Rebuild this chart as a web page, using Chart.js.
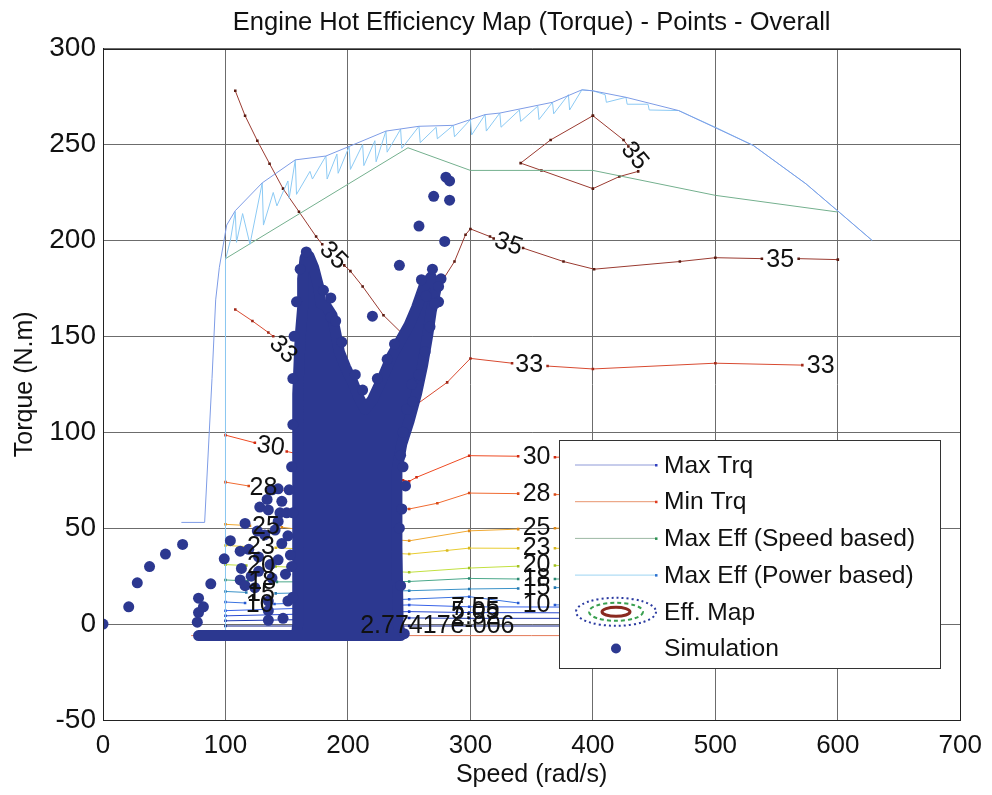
<!DOCTYPE html>
<html>
<head>
<meta charset="utf-8">
<script src="https://cdn.jsdelivr.net/npm/chart.js@4.4.1/dist/chart.umd.min.js"></script>
<style>
  html, body { margin: 0; padding: 0; background: #fff; }
</style>
</head>
<body>
<canvas id="effMap" width="992" height="795"></canvas>
<script>
/* Engine hot efficiency map (speed rad/s, torque N.m) */
var maxTrq = [[64,53],[83,53],[89,128],[92,169],[95,186],[101,208],[108,215.5],[130,230],[157,242],[182,244],[201,249],[231,257],[258,259.5],[286,260],[300,263],[312,265.6],[324,266.4],[367,272],[391,278.5],[400,278],[427,274.6],[470,267.7],[531,249.5],[574,229.5],[601,214.8],[628,200]];
var minTrq = [[72,-6],[628,-6]];
var maxEffSpeed = [[100,190.5],[249,248.3],[300,236.5],[400,236.5],[500,223.5],[600,214.8]];
var maxEffPower = [[100,-6],[100,190],[104,200],[108,215],[109,199],[114,214],[120,198],[130,230],[131,208],[139,225],[142,218],[151,231],[152,222],[157,242],[158,224],[169,236],[171,232],[182,244],[183,232],[191,245],[192,235],[201,249],[202,237],[212,250],[213,239],[222,252],[223,241],[231,257],[232,246],[243,258],[244,248],[258,259.5],[259,251],[272,259],[273,253],[286,260],[287,254],[300,263],[301,255],[312,265.6],[313,257],[324,266.4],[325,259],[340,268],[341,262],[355,270],[356,263],[367,272],[368,266],[380,276],[381,268],[391,278.5],[400,278],[410,276],[411,272],[427,274.6],[428,271],[445,271],[446,268],[470,267.7],[500,259],[531,249.5],[574,229.5],[601,214.8],[628,200]];

/* efficiency contours (null = gap for the label) */
var c35 = [[108,278],[116,265],[126,252],[136,240],[147,227],[160,215],[174,202],[179,198],null,[197,187],[202,184],[212,176],[229,161],[245,151],[252,147],[262,160],[275,177],[287,189],[296,203],[300,206],[316,202],[319,201],null,[343,196],[376,189],[401,185],[471,189],[500,191],[538,190.5],null,[568,190.5],[600,190]];
var c35island = [[400,265],[425,252.4],[429,249],null,[437,236],[421.6,233.3],[400,227],[358,236.5],[341,240.3],[365.5,252.4],[400,265]];
var c33 = [[108,164],[122,158],[135,152],[139,150],null,[157,138],[160,137],[185,122],[210,108],[235,100],[249.5,110],[255,114],[281,126],[300,138.5],[334,136],null,[363,134.5],[400,133],[500,136],[571,135]];
var c30 = [[100,98.5],[124,94.5],null,[150,90],[157,89],[200,80],[245,75],[250,74.4],[256,76.5],[299,87.8],[339,87.5],null,[369,87],[600,88]];
var c28 = [[100,74],[119,72],null,[144,70],[157,69],[200,62],[250,60],[273,63],[299,68.3],[339,68],null,[369,67.5],[600,68]];
var c25 = [[100,52],[120,51.3],null,[146,50.5],[200,46],[250,43.4],[299,48.6],[339,49.5],null,[369,50],[600,50]];
var c23 = [[100,41],[117,40.4],null,[141,39.8],[200,38],[250,36.5],[281,38.4],[299,39.6],[339,39.5],null,[369,39.5],[600,40]];
var c20 = [[100,31],[117,30.5],null,[141,30],[200,28.5],[250,27],[299,29.2],[339,30.2],null,[369,30.5],[600,31]];
var c18 = [[100,23],[118,22.5],null,[142,22],[250,22.2],[299,23.8],[339,23.5],null,[369,23.5],[600,24]];
var c15 = [[100,17],[117,16.5],null,[141,16],[250,17.4],[299,18.3],[339,18.6],null,[369,19],[600,19]];
var c10 = [[100,11.5],[116,11],null,[140,10.5],[250,13],[299,14.3],[339,11],null,[369,10],[600,10]];
var c755 = [[100,7],[250,10],[299,9],[600,8.5]];
var c505 = [[100,4.3],[250,6.5],[299,6],[600,5.5]];
var c252 = [[100,1.7],[250,3.2],[299,3],[600,3]];
var c0 = [[100,-1],[250,-1],[600,-1]];
var contourColors = ['#9a3a30','#9a3a30','#d84a30','#ee4a22','#f06a30','#f0a830','#e8cc30','#c2e040','#4aa88a','#3a92c8','#3a72e0','#3862e8','#2848d0','#1c36b0','#14248a'];
var contourMarkers = ['#5a1a10','#5a1a10','#a02818','#d02a10','#d84a18','#e08818','#d8b820','#a0c020','#2a8870','#2478b0','#2458d0','#2450d8','#1838c0','#1028a0','#0c1c78'];

/* labels: text, speed, torque, angle (deg) */
var contourLabels = [
  ['35',188,192,45],['35',331,198,19],['35',434,244,50],['35',553,190,0],
  ['33',147,143,45],['33',348,135,0],['33',586,134.5,0],
  ['30',137,92.5,8],['30',354,87,0],
  ['28',131,71,0],['28',354,67.5,0],
  ['25',133,50.5,0],['25',354,50,0],
  ['23',129,40,0],['23',354,39.5,0],
  ['20',129,30,0],['20',354,30.5,0],
  ['18',130,22,0],['18',354,23.5,0],
  ['15',129,15.5,0],['15',354,19,0],
  ['10',128,10,0],['10',354,10,0],
  ['7.55',304,8.5,0],['5.05',304,6,0],['2.52',304,3.5,0],['2.77417e-006',273,-1,0]
];

/* simulation points: dense core outline + scattered points */
var simCore = [[78,-6],[243,-6],[241,0],[240,40],[240,80],[244,94],[250,106],[256,120],[261,135],[265,150],[268,163],[272,175],[268,181],[262,176],[256,165],[250,156],[243,148],[236,140],[228,128],[220,117],[214,112],[209,118],[204,126],[198,134],[193,142],[190,152],[187,161],[182,166],[178,167],[176,176],[172,186],[168,192],[165,191],[163,180],[163,165],[161,150],[160,135],[159,120],[159,60],[159,0],[158,-6]];
var simDots = [[0,0],[21,9],[28,21.5],[38,30],[51,36.5],[65,41.5],
  [77,1],[78,6],[82,9],[78,13.5],[88,21],[99,34],[104,43.5],[116,52.5],[112,38],[119,39],[113,29],[112,23],[116,20],[124,19],
  [126,48.5],[132,46.5],[128,61],[135,59.5],[134,65],[143,70.5],[138,70],[146,64],[144.5,58],[143,53.5],[140.5,49],
  [127,27.5],[136.5,31],[127,35],[143,33.5],[138,24],[135,7],[135,2],[135,12],[121,25],[146,42],[150,58],[151,46],[149,26],[151,12],[147,3],[153,36],[152,70],
  [280,233],[283,231],[270,223],[283,221],[258,207.5],[279,199.5],[242,187],[220,160.5],[260,179.5],[264,171],[269,185],[276,180],[274,168],
  [248,112],[252,125],[245,100],[245,82],[247,72],[244,60],[186,170],[186,160],[166,194],
  [161,185],[158,168],[156,150],[155,128],[155,104],[154,82],[155,58],[154,30],[155,14],
  [180,174],[190,158],[195,147],[206,130],[212,122],[224,128],[232,138],[238,146],
  [253,116],[258,130],[263,142],[267,155],[271,167],[274,176],[243,88],[242,50],[243,20],[246,-5]];

var legendNames = ['Max Trq','Min Trq','Max Eff (Speed based)','Max Eff (Power based)','Eff. Map','Simulation'];

function pts(arr) {
  return arr.map(function (p) { return p ? {x: p[0], y: p[1]} : {x: NaN, y: NaN}; });
}

var contours = [c35, c35island, c33, c30, c28, c25, c23, c20, c18, c15, c10, c755, c505, c252, c0];
var datasets = [];

datasets.push({ label: 'Simulation', data: pts(simDots), showLine: false, pointRadius: 5.5, pointBackgroundColor: '#2c3890', pointBorderWidth: 0, order: 0 });
datasets.push({ label: 'simCore', data: pts(simCore), showLine: true, fill: 'shape', backgroundColor: '#2c3890', borderColor: '#2c3890', borderWidth: 11, borderJoinStyle: 'round', borderCapStyle: 'round', pointRadius: 0, order: 1 });
datasets.push({ label: 'Max Trq', data: pts(maxTrq), showLine: true, borderColor: '#7e9ce6', borderWidth: 1, pointRadius: 0, order: 2 });
datasets.push({ label: 'Max Eff (Power based)', data: pts(maxEffPower), showLine: true, borderColor: '#8ccaf4', borderWidth: 1, pointRadius: 0, order: 2 });
datasets.push({ label: 'Max Eff (Speed based)', data: pts(maxEffSpeed), showLine: true, borderColor: '#74b08e', borderWidth: 1, pointRadius: 0, order: 2 });
datasets.push({ label: 'Min Trq', data: pts(minTrq), showLine: true, borderColor: '#e47a58', borderWidth: 1, pointRadius: 0, order: 3 });
contours.forEach(function (c, i) {
  datasets.push({ label: 'contour' + i, data: pts(c), showLine: true, spanGaps: false,
    borderColor: contourColors[i], borderWidth: 1, pointRadius: 1.8, pointStyle: 'rect',
    pointBackgroundColor: contourMarkers[i], pointBorderWidth: 0, order: 4 });
});

/* frame, contour labels and the MATLAB-style legend box */
var matlabLook = {
  id: 'matlabLook',
  afterDatasetsDraw: function (chart) {
    var ctx = chart.ctx, a = chart.chartArea, xs = chart.scales.x, ys = chart.scales.y;
    ctx.save();
    ctx.beginPath();
    ctx.rect(a.left, a.top, a.right - a.left, a.bottom - a.top);
    ctx.clip();
    ctx.font = '25px "Liberation Sans", Arial, sans-serif';
    ctx.fillStyle = '#111';
    ctx.textAlign = 'center';
    ctx.textBaseline = 'middle';
    contourLabels.forEach(function (l) {
      ctx.save();
      ctx.translate(xs.getPixelForValue(l[1]), ys.getPixelForValue(l[2]));
      ctx.rotate(l[3] * Math.PI / 180);
      ctx.fillText(l[0], 0, 0);
      ctx.restore();
    });
    ctx.restore();

    // legend
    var bx = 559, by = 440, bw = 381, bh = 228;
    ctx.save();
    ctx.fillStyle = '#fff';
    ctx.fillRect(bx, by, bw, bh);
    ctx.strokeStyle = '#333';
    ctx.lineWidth = 1;
    ctx.strokeRect(bx + 0.5, by + 0.5, bw, bh);
    var lineCols = ['#8f9ad8', '#e8946e', '#9cb8a4', '#9cd4f2'];
    var markCols = ['#3040c0', '#e03a20', '#2a9050', '#2a70d0'];
    ctx.font = '24.6px "Liberation Sans", Arial, sans-serif';
    ctx.textAlign = 'left';
    ctx.textBaseline = 'middle';
    for (var i = 0; i < legendNames.length; i++) {
      var ry = by + 25 + i * 36.7;
      if (i < 4) {
        ctx.strokeStyle = lineCols[i];
        ctx.beginPath();
        ctx.moveTo(575, ry); ctx.lineTo(656, ry);
        ctx.stroke();
        ctx.fillStyle = markCols[i];
        ctx.fillRect(655, ry - 1, 2.5, 2.5);
      } else if (i === 4) {
        ctx.lineWidth = 2;
        ctx.setLineDash([2, 3]);
        ctx.strokeStyle = '#2a3aa0';
        ctx.beginPath(); ctx.ellipse(616, ry, 40, 14, 0, 0, Math.PI * 2); ctx.stroke();
        ctx.strokeStyle = '#3aa050';
        ctx.setLineDash([4, 3]);
        ctx.beginPath(); ctx.ellipse(616, ry, 27, 9, 0, 0, Math.PI * 2); ctx.stroke();
        ctx.setLineDash([]);
        ctx.lineWidth = 3;
        ctx.strokeStyle = '#8a2a20';
        ctx.beginPath(); ctx.ellipse(616, ry, 14, 4.5, 0, 0, Math.PI * 2); ctx.stroke();
        ctx.lineWidth = 1;
      } else {
        ctx.fillStyle = '#2c3890';
        ctx.beginPath(); ctx.arc(616, ry, 5, 0, Math.PI * 2); ctx.fill();
      }
      ctx.fillStyle = '#111';
      ctx.fillText(legendNames[i], 664, ry + 1);
    }
    ctx.restore();
  },
  afterDraw: function (chart) {
    var ctx = chart.ctx, a = chart.chartArea;
    ctx.save();
    ctx.strokeStyle = '#222';
    ctx.lineWidth = 1;
    ctx.strokeRect(Math.round(a.left) + 0.5, Math.round(a.top) + 0.5, Math.round(a.right - a.left), Math.round(a.bottom - a.top));
    ctx.restore();
  }
};

var font = '"Liberation Sans", Arial, Helvetica, sans-serif';
var effChart = new Chart(document.getElementById('effMap'), {
  type: 'scatter',
  data: { datasets: datasets },
  options: {
    responsive: false,
    animation: false,
    layout: { padding: { left: 0, right: 25, top: 0, bottom: 0 } },
    scales: {
      x: {
        type: 'linear', min: 0, max: 700,
        ticks: { stepSize: 100, color: '#111', font: { family: font, size: 26 }, padding: 10 },
        grid: { color: '#6c6c6c', drawTicks: false },
        border: { color: '#222' },
        title: { display: true, text: 'Speed (rad/s)', color: '#111', font: { family: font, size: 25 }, padding: { top: 0, bottom: 5 } },
        afterFit: function (s) { s.height = 75; }
      },
      y: {
        type: 'linear', min: -50, max: 300,
        ticks: { stepSize: 50, color: '#111', font: { family: font, size: 28 }, padding: 7 },
        grid: { color: '#6c6c6c', drawTicks: false },
        border: { color: '#222' },
        title: { display: true, text: 'Torque (N.m)', color: '#111', font: { family: font, size: 25 }, padding: { top: 10, bottom: 0 } },
        afterFit: function (s) { s.width = 103; }
      }
    },
    plugins: {
      legend: { display: false },
      tooltip: { enabled: false },
      title: {
        display: true,
        fullSize: false,
        text: 'Engine Hot Efficiency Map (Torque) - Points - Overall',
        color: '#111',
        font: { family: font, size: 25.5, weight: 'normal' },
        padding: { top: 8, bottom: 10 }
      }
    }
  },
  plugins: [matlabLook]
});
</script>
</body>
</html>
